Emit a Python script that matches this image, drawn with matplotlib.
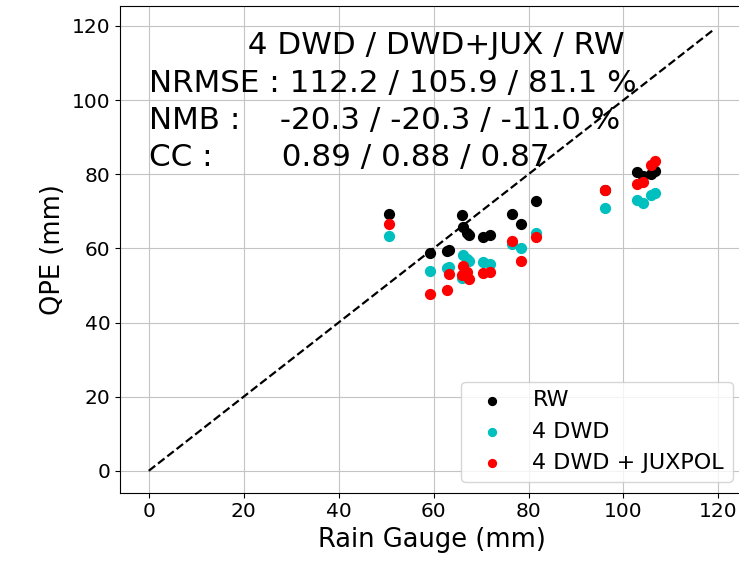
import numpy as np
import matplotlib
matplotlib.use('Agg')
import matplotlib.pyplot as plt

# rain gauge totals per station (mm)
gauge = [50.7, 59.3, 62.9, 63.3, 66.0, 66.2, 67.0, 67.4, 70.5, 71.9,
         76.5, 78.4, 81.6, 96.1, 102.8, 104.2, 105.9, 106.6]
# QPE at the gauge locations (mm)
qpe_rw = [69.3, 58.7, 59.4, 59.7, 69.0, 65.8, 64.1, 63.6, 63.1, 63.6,
          69.4, 66.5, 72.8, 75.8, 80.7, 79.5, 80.0, 80.8]
qpe_dwd = [63.3, 53.9, 54.6, 54.9, 51.9, 58.2, 57.1, 56.6, 56.2, 55.8,
           61.1, 60.2, 64.2, 71.0, 73.0, 72.3, 74.5, 75.0]
qpe_jux = [66.7, 47.6, 48.9, 53.0, 52.8, 55.3, 53.5, 51.7, 53.3, 53.7,
           62.1, 56.7, 63.1, 75.7, 77.5, 78.0, 82.5, 83.6]

stats_text = ("          4 DWD / DWD+JUX / RW\n"
              "NRMSE : 112.2 / 105.9 / 81.1 %\n"
              "NMB :    -20.3 / -20.3 / -11.0 %\n"
              "CC :       0.89 / 0.88 / 0.87")

fig = plt.figure(figsize=(7.39, 5.69), dpi=100)
ax = fig.add_axes([0.1624, 0.1341, 0.8444, 0.8548])

ax.scatter(gauge, qpe_rw, s=50, c='k', label='RW', zorder=3)
ax.scatter(gauge, qpe_dwd, s=50, c='c', label='4 DWD', zorder=3)
ax.scatter(gauge, qpe_jux, s=50, c='r', label='4 DWD + JUXPOL', zorder=3)

# 1:1 line
ax.plot([0, 119], [0, 119], 'k--', lw=1.6, zorder=2)

ax.text(0, 82.2, stats_text, fontsize=22.3, va='baseline', ha='left',
        linespacing=1.36)

ax.set_xlim(-6.05, 125.4)
ax.set_ylim(-5.9, 125.3)
ax.set_xticks(np.arange(0, 121, 20))
ax.set_yticks(np.arange(0, 121, 20))
ax.tick_params(labelsize=14.5)
ax.set_xlabel('Rain Gauge (mm)', fontsize=18.5)
ax.set_ylabel('QPE (mm)', fontsize=18.5)
ax.grid(True, color='#c4c4c4')
ax.legend(loc='lower right', fontsize=16, markerscale=0.8)

fig.savefig('out.png', dpi=100)
